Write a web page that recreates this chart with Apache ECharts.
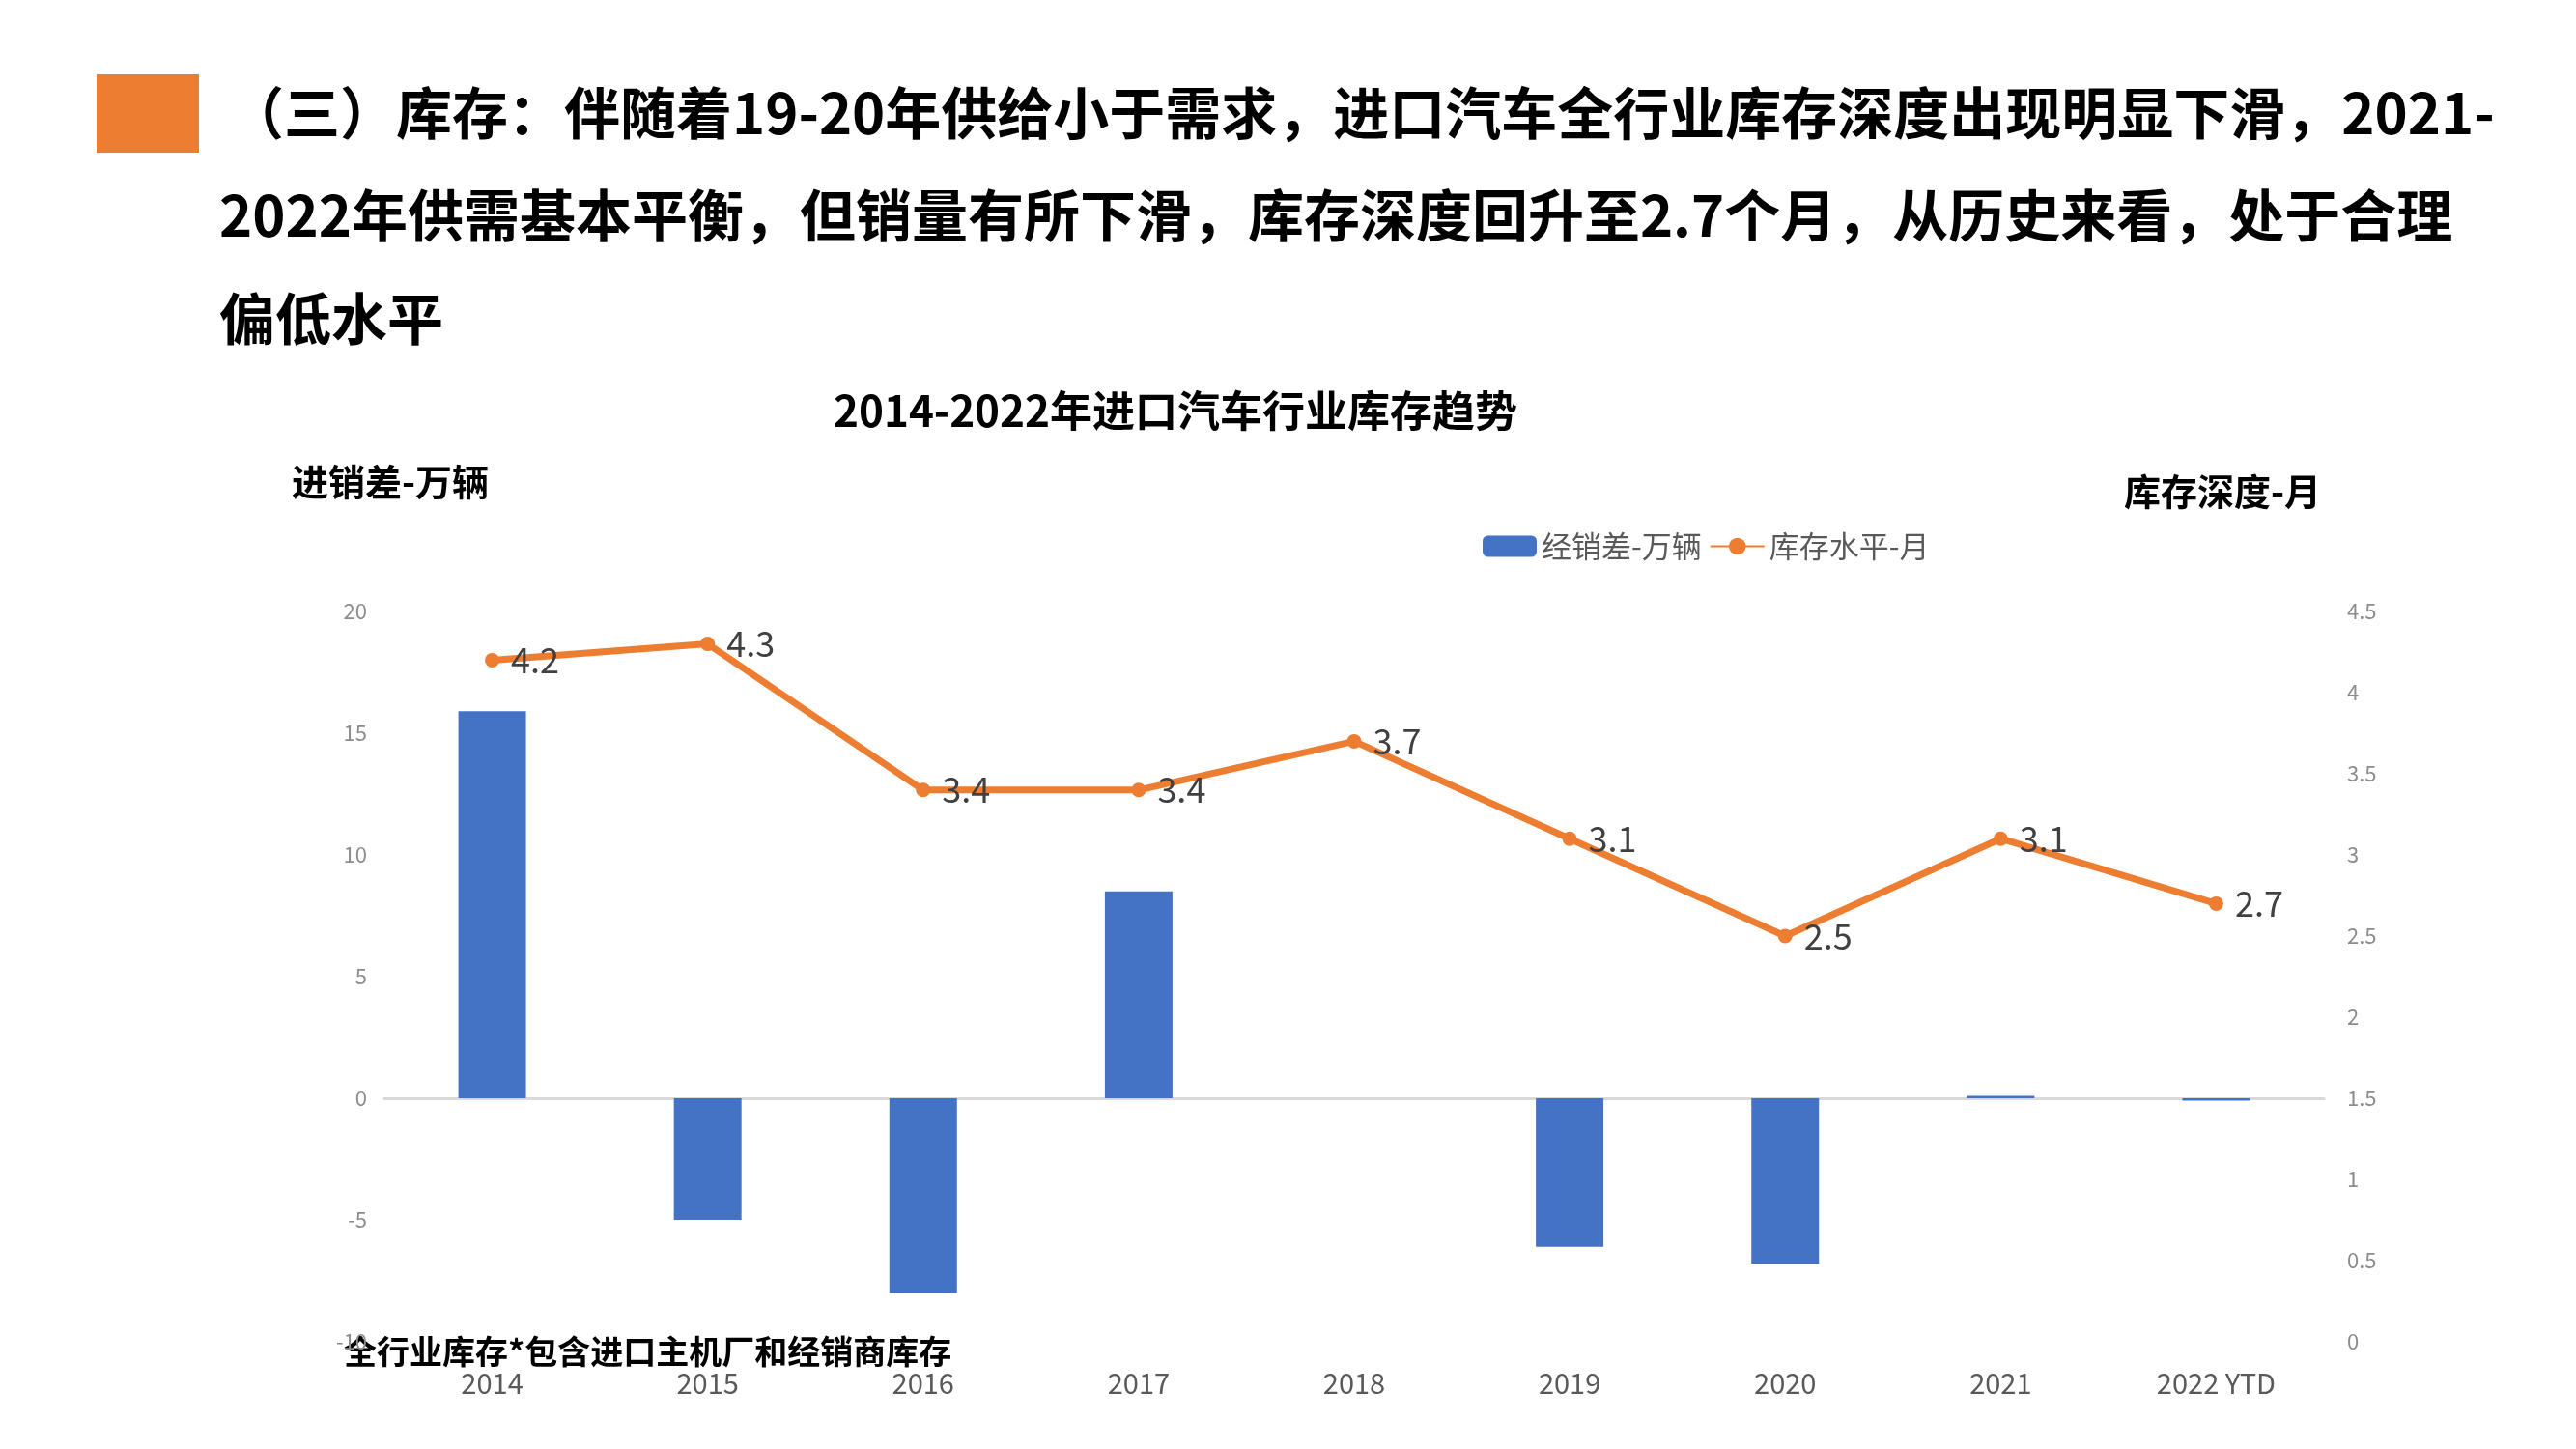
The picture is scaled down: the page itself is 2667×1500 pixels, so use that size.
<!DOCTYPE html>
<html><head><meta charset="utf-8">
<script src="https://cdn.jsdelivr.net/npm/echarts@6/dist/echarts.min.js"></script>
<style>html,body{margin:0;padding:0;background:#fff}#c{width:2667px;height:1500px}</style>
</head><body><div id="c"></div>
<script>
const categories = ['2014','2015','2016','2017','2018','2019','2020','2021','2022 YTD'];
const gapValues = [15.9, -5.0, -8.0, 8.5, 0, -6.1, -6.8, 0.1, -0.1];
const stockMonths = [4.2, 4.3, 3.4, 3.4, 3.7, 3.1, 2.5, 3.1, 2.7];
const headerLines = [
  '（三）库存：伴随着19-20年供给小于需求，进口汽车全行业库存深度出现明显下滑，2021-',
  '2022年供需基本平衡，但销量有所下滑，库存深度回升至2.7个月，从历史来看，处于合理',
  '偏低水平'
];
const F = '"Noto Sans CJK SC", "Noto Sans", sans-serif';
const chart = echarts.init(document.getElementById('c'));
chart.setOption({
  animation: false,
  textStyle: {fontFamily: F},
  title: {text: '2014-2022年进口汽车行业库存趋势', left: 1212, top: 398, textAlign: 'center',
    textStyle: {fontSize: 44, fontWeight: 'bold', color: '#000', fontFamily: F}},
  legend: {top: 545, left: 1530, itemWidth: 56, itemHeight: 22, itemGap: 8,
    textStyle: {fontSize: 31, color: '#595959'}, data: ['经销差-万辆', '库存水平-月']},
  grid: {left: 398, right: 261, top: 633, bottom: 111},
  xAxis: {type: 'category', data: categories,
    axisLine: {onZero: true, onZeroAxisIndex: 0, lineStyle: {color: '#d9d9d9', width: 3}},
    axisTick: {show: false},
    axisLabel: {fontSize: 29, color: '#595959', margin: 28}},
  yAxis: [
    {type: 'value', min: -10, max: 20, interval: 5, splitLine: {show: false},
     axisLine: {show: false}, axisTick: {show: false},
     axisLabel: {fontSize: 22, color: '#8c8c8c', margin: 18}},
    {type: 'value', min: 0, max: 4.5, interval: 0.5, splitLine: {show: false},
     axisLine: {show: false}, axisTick: {show: false},
     axisLabel: {fontSize: 22, color: '#8c8c8c', margin: 24}}
  ],
  series: [
    {name: '经销差-万辆', type: 'bar', data: gapValues, barWidth: 70,
     itemStyle: {color: '#4472C4'}},
    {name: '库存水平-月', type: 'line', yAxisIndex: 1, data: stockMonths,
     lineStyle: {color: '#ED7D31', width: 7}, itemStyle: {color: '#ED7D31'},
     symbol: 'circle', symbolSize: 15,
     label: {show: true, position: 'right', distance: 12, fontSize: 36, color: '#404040'}}
  ],
  graphic: [
    {type: 'rect', shape: {x: 100, y: 77, width: 106, height: 81}, style: {fill: '#ED7D31'}},
    {type: 'text', left: 236, top: 88, style: {text: headerLines[0], font: 'bold 58px ' + F, fill: '#000'}},
    {type: 'text', left: 227, top: 194, style: {text: headerLines[1], font: 'bold 58px ' + F, fill: '#000'}},
    {type: 'text', left: 227, top: 301, style: {text: headerLines[2], font: 'bold 58px ' + F, fill: '#000'}},
    {type: 'text', left: 302, top: 480, style: {text: '进销差-万辆', font: 'bold 38px ' + F, fill: '#000'}},
    {type: 'text', right: 264, top: 490, style: {text: '库存深度-月', font: 'bold 38px ' + F, fill: '#000'}},
    {type: 'text', left: 356, top: 1382, style: {text: '全行业库存*包含进口主机厂和经销商库存', font: 'bold 34px ' + F, fill: '#000'}}
  ]
});
</script></body></html>
